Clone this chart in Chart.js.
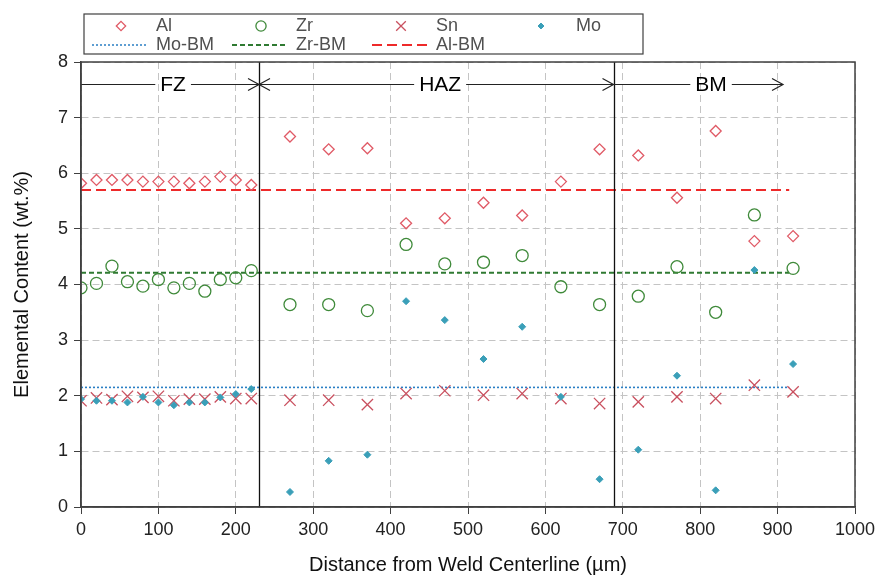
<!DOCTYPE html>
<html>
<head>
<meta charset="utf-8">
<script src="https://cdn.jsdelivr.net/npm/chart.js@4.4.0/dist/chart.umd.min.js"></script>
<style>
  html, body { margin: 0; padding: 0; background: #fff; }
  #wrap { width: 881px; height: 577px; }
</style>
</head>
<body>
<div id="wrap"><canvas id="grafico"></canvas></div>
<script>
// distance from weld centerline (um)
const distancias = [0, 20, 40, 60, 80, 100, 120, 140, 160, 180, 200, 220,
  270, 320, 370, 420, 470, 520, 570, 620, 670, 720, 770, 820, 870, 920]

// composition, wt.%
const valoresAl = [5.82, 5.88, 5.88, 5.88, 5.85, 5.85, 5.85, 5.82, 5.85, 5.94, 5.88, 5.79,
  6.66, 6.43, 6.45, 5.10, 5.19, 5.47, 5.24, 5.85, 6.43, 6.32, 5.56, 6.76, 4.78, 4.87]
const valoresZr = [3.94, 4.02, 4.33, 4.05, 3.97, 4.09, 3.94, 4.02, 3.88, 4.09, 4.12, 4.25,
  3.64, 3.64, 3.53, 4.72, 4.37, 4.40, 4.52, 3.96, 3.64, 3.79, 4.32, 3.50, 5.25, 4.29]
const valoresSn = [1.91, 1.96, 1.93, 1.99, 1.97, 1.99, 1.91, 1.94, 1.94, 1.98, 1.95, 1.95,
  1.92, 1.92, 1.84, 2.04, 2.09, 2.01, 2.04, 1.95, 1.86, 1.89, 1.98, 1.95, 2.19, 2.07]
const valoresMo = [1.94, 1.91, 1.91, 1.88, 1.98, 1.88, 1.83, 1.88, 1.88, 1.97, 2.03, 2.12,
  0.27, 0.83, 0.94, 3.70, 3.36, 2.66, 3.24, 1.98, 0.50, 1.03, 2.36, 0.30, 4.26, 2.57]

// base metal reference levels
const rangoBM = [0, 915]
const nivelMoBM = 2.15
const nivelZrBM = 4.21
const nivelAlBM = 5.70

// zones along the weld
const zonaNombres = ['FZ', 'HAZ', 'BM']
const zonaDesde = [0, 230, 688]
const zonaHasta = [230, 688, 907]
const zonaTextoX = [119, 464, 814]
const zonaFlechaIzq = [false, true, false]
const zonaFlechaDer = [true, true, true]
const nivelZonas = 7.6
const limitesZona = [230, 688]

const fuente = "'Liberation Sans', Arial, sans-serif"

let puntos = (valores) => distancias.map((d, i) => ({x: d, y: valores[i]}))
let linea = (nivel) => rangoBM.map(d => ({x: d, y: nivel}))

const datasets = [
  {label: 'Al', data: puntos(valoresAl), pointStyle: 'rectRot', pointRadius: 5.5,
    borderColor: '#e05a66', backgroundColor: 'rgba(255,255,255,0)', borderWidth: 1.3, order: 4},
  {label: 'Zr', data: puntos(valoresZr), pointStyle: 'circle', pointRadius: 6,
    borderColor: '#3f8a3a', backgroundColor: 'rgba(255,255,255,0)', borderWidth: 1.3, order: 3},
  {label: 'Sn', data: puntos(valoresSn), pointStyle: 'crossRot', pointRadius: 8,
    borderColor: '#c9505f', backgroundColor: '#c9505f', borderWidth: 1.3, order: 2},
  {label: 'Mo', data: puntos(valoresMo), pointStyle: 'rectRot', pointRadius: 3.5,
    borderColor: '#3a9fb8', backgroundColor: '#3a9fb8', borderWidth: 1, order: 1},
  {label: 'Mo-BM', data: linea(nivelMoBM), showLine: true, pointRadius: 0,
    borderColor: '#2a7fc4', borderWidth: 1.6, borderDash: [2, 2], order: 7},
  {label: 'Zr-BM', data: linea(nivelZrBM), showLine: true, pointRadius: 0,
    borderColor: '#2f7a32', borderWidth: 2, borderDash: [5, 3], order: 6},
  {label: 'Al-BM', data: linea(nivelAlBM), showLine: true, pointRadius: 0,
    borderColor: '#ee2a2a', borderWidth: 2, borderDash: [10, 5], order: 5}
]

// legend box: markers on the first row, BM lines on the second
const leyenda = {
  id: 'leyenda',
  afterDraw(chart) {
    const ctx = chart.ctx
    const cols = [92, 232, 372, 512]
    const filas = [26, 45]
    ctx.save()
    ctx.strokeStyle = '#404040'
    ctx.lineWidth = 1.2
    ctx.strokeRect(84, 14, 559, 40)
    ctx.font = '18px ' + fuente
    ctx.textBaseline = 'middle'
    ctx.fillStyle = '#505050'
    chart.data.datasets.forEach((ds, i) => {
      let fila = ds.showLine ? 1 : 0
      let col = ds.showLine ? i - 4 : i
      let x0 = cols[col]
      let y = filas[fila]
      if (ds.showLine) {
        ctx.save()
        ctx.strokeStyle = ds.borderColor
        ctx.lineWidth = ds.borderWidth
        ctx.setLineDash(ds.borderDash)
        ctx.beginPath()
        ctx.moveTo(x0, y)
        ctx.lineTo(x0 + 56, y)
        ctx.stroke()
        ctx.restore()
      } else {
        ctx.save()
        ctx.strokeStyle = ds.borderColor
        ctx.fillStyle = ds.backgroundColor
        ctx.lineWidth = ds.borderWidth
        Chart.helpers.drawPoint(ctx, {pointStyle: ds.pointStyle, radius: ds.pointRadius * 0.85,
          rotation: 0, borderWidth: ds.borderWidth}, x0 + 29, y)
        ctx.restore()
      }
      ctx.fillText(ds.label, x0 + 64, y)
    })
    ctx.restore()
  }
}

// frame, zone boundaries and the FZ / HAZ / BM arrows
const zonas = {
  id: 'zonas',
  afterDatasetsDraw(chart) {
    const ctx = chart.ctx
    const area = chart.chartArea
    const sx = chart.scales.x
    const sy = chart.scales.y
    ctx.save()
    ctx.strokeStyle = '#111'
    ctx.lineWidth = 1.3
    limitesZona.forEach(v => {
      let x = Math.round(sx.getPixelForValue(v)) + 0.5
      ctx.beginPath()
      ctx.moveTo(x, area.top)
      ctx.lineTo(x, area.bottom)
      ctx.stroke()
    })

    let y = Math.round(sy.getPixelForValue(nivelZonas)) + 0.5
    ctx.font = '21px ' + fuente
    ctx.textAlign = 'center'
    ctx.textBaseline = 'middle'
    ctx.fillStyle = '#000'
    ctx.strokeStyle = '#222'
    ctx.lineWidth = 1.2
    zonaNombres.forEach((nombre, i) => {
      let x1 = sx.getPixelForValue(zonaDesde[i])
      let x2 = sx.getPixelForValue(zonaHasta[i])
      let xt = sx.getPixelForValue(zonaTextoX[i])
      let medio = ctx.measureText(nombre).width / 2 + 5
      ctx.fillText(nombre, xt, y + 1)
      ctx.beginPath()
      ctx.moveTo(x1, y)
      ctx.lineTo(xt - medio, y)
      ctx.moveTo(xt + medio, y)
      ctx.lineTo(x2, y)
      if (zonaFlechaDer[i]) {
        ctx.moveTo(x2 - 11, y - 6)
        ctx.lineTo(x2, y)
        ctx.lineTo(x2 - 11, y + 6)
      }
      if (zonaFlechaIzq[i]) {
        ctx.moveTo(x1 + 11, y - 6)
        ctx.lineTo(x1, y)
        ctx.lineTo(x1 + 11, y + 6)
      }
      ctx.stroke()
    })

    ctx.strokeStyle = '#404040'
    ctx.lineWidth = 1.5
    ctx.strokeRect(area.left, area.top, area.right - area.left, area.bottom - area.top)
    ctx.restore()
  }
}

let cargarGrafico = () => {
  let seccionGrafico = document.getElementById('grafico').getContext('2d')
  new Chart(seccionGrafico, {
    type: 'scatter',
    data: {datasets: datasets},
    plugins: [zonas, leyenda],
    options: {
      responsive: true,
      maintainAspectRatio: false,
      animation: false,
      layout: {padding: {top: 62, right: 26, bottom: 0, left: 0}},
      plugins: {
        legend: {display: false},
        tooltip: {enabled: false}
      },
      scales: {
        x: {
          type: 'linear',
          min: 0,
          max: 1000,
          afterFit: (s) => { s.height = 70 },
          ticks: {stepSize: 100, padding: 5, color: '#222', font: {size: 18, family: fuente},
            callback: (v) => String(v)},
          grid: {color: '#c4c4c4', lineWidth: 1, tickLength: 7, tickColor: '#404040', tickBorderDash: []},
          border: {dash: [7, 4], color: '#404040', width: 1.5},
          title: {display: true, text: 'Distance from Weld Centerline (µm)', color: '#111',
            font: {size: 20, family: fuente}, padding: {top: 0, bottom: 0}}
        },
        y: {
          min: 0,
          max: 8,
          afterFit: (s) => { s.width = 81 },
          ticks: {stepSize: 1, padding: 6, color: '#222', font: {size: 18, family: fuente}},
          grid: {color: '#c4c4c4', lineWidth: 1, tickLength: 7, tickColor: '#404040', tickBorderDash: []},
          border: {dash: [7, 4], color: '#404040', width: 1.5},
          title: {display: true, text: 'Elemental Content (wt.%)', color: '#111',
            font: {size: 20, family: fuente}, padding: {top: 10, bottom: 0}}
        }
      }
    }
  })
}

window.addEventListener('DOMContentLoaded', (event) => {
  cargarGrafico()
})
</script>
</body>
</html>
